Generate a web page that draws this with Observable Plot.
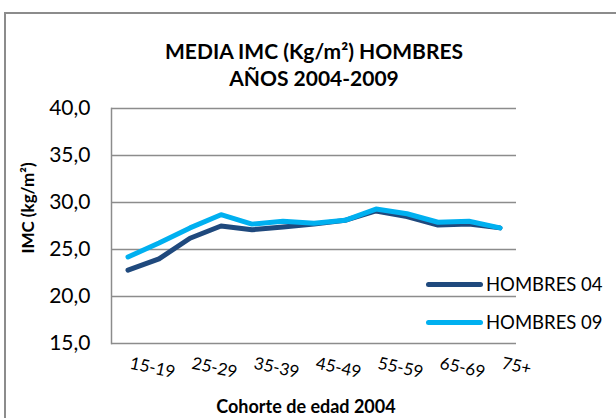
<!DOCTYPE html>
<html><head><meta charset="utf-8">
<script src="https://cdn.jsdelivr.net/npm/d3@7"></script>
<script src="https://cdn.jsdelivr.net/npm/@observablehq/plot@0.6"></script>
<style>
body{margin:0;background:#fff;}
#wrap{position:relative;width:616px;height:418px;overflow:hidden;font-family:Lato,"Open Sans",sans-serif;color:#000;}
#border{position:absolute;left:4px;top:12px;width:640px;height:440px;border:2px solid #8c8c8c;box-sizing:border-box;}
#title{position:absolute;left:14px;width:600px;top:37px;text-align:center;font-weight:bold;font-size:21px;line-height:27px;}
#ytitle{position:absolute;left:27px;top:208px;transform:translate(-50%,-50%) rotate(-90deg);font-weight:bold;font-size:17px;white-space:nowrap;}
#xtitle{position:absolute;left:306px;top:396px;transform:translateX(-50%);font-weight:bold;font-size:18px;line-height:21px;white-space:nowrap;}
.leg{position:absolute;left:426px;height:22px;display:flex;align-items:center;font-size:18.5px;white-space:nowrap;}
.leg span.sw{display:inline-block;width:57px;height:5px;border-radius:3px;margin-right:3px;}
#chart{position:absolute;left:0;top:0;}
</style></head><body><div id="wrap"><div id="border"></div><div id="chart"></div></div>
<script>
const ageGroups = ["15-19","20-24","25-29","30-34","35-39","40-44","45-49","50-54","55-59","60-64","65-69","70-74","75+"];
const hombres04 = [22.8,24.0,26.2,27.5,27.1,27.4,27.7,28.1,29.1,28.5,27.6,27.7,27.3];
const hombres09 = [24.2,25.7,27.3,28.7,27.7,28.0,27.8,28.1,29.3,28.8,27.9,28.0,27.3];
const seriesNames = ["HOMBRES 04","HOMBRES 09"];
const seriesColors = ["#1f497d","#00b0f0"];
const yTicks = [15,20,25,30,35,40];
const shownLabels = ageGroups.filter((d,i)=>i%2===0);
const titleLines = ["MEDIA IMC (Kg/m²) HOMBRES","AÑOS 2004-2009"];
const yTitle = "IMC (kg/m²)";
const xTitle = "Cohorte de edad 2004";

const rows = [];
ageGroups.forEach((a,i)=>{
  rows.push({age:a, value:hombres04[i], series:seriesNames[0]});
});
ageGroups.forEach((a,i)=>{
  rows.push({age:a, value:hombres09[i], series:seriesNames[1]});
});

const fmt = d => d.toFixed(1).replace(".", ",");
const font = 'Lato, "Open Sans", sans-serif';

const chart = Plot.plot({
  width:616, height:418,
  marginLeft:111, marginRight:100, marginTop:108, marginBottom:75,
  x:{type:"band", domain:ageGroups, padding:0, axis:null},
  y:{domain:[15,40], axis:null},
  color:{domain:seriesNames, range:seriesColors},
  style:{fontFamily:font, background:"transparent", color:"#000"},
  marks:[
    Plot.ruleY(yTicks, {stroke:"#8c8c8c", strokeWidth:1.5}),
    Plot.frame({anchor:"left", stroke:"#8c8c8c", strokeWidth:1.5}),
    Plot.axisY({ticks:yTicks, tickSize:0, tickPadding:21, tickFormat:fmt, fontSize:21, fill:"#000", label:null}),
    Plot.line(rows, {x:"age", y:"value", stroke:"series", z:"series", strokeWidth:5, strokeLinejoin:"round", strokeLinecap:"round"}),
    Plot.text(shownLabels, {x:d=>d, frameAnchor:"bottom", dy:25, dx:1, rotate:12, textAnchor:"start", fontSize:17, fill:"#000"})
  ]
});
document.getElementById("chart").appendChild(chart);

const wrap = document.getElementById("wrap");
const t = document.createElement("div"); t.id="title"; t.innerHTML = titleLines.join("<br>"); wrap.appendChild(t);
const yt = document.createElement("div"); yt.id="ytitle"; yt.textContent = yTitle; wrap.appendChild(yt);
const xt = document.createElement("div"); xt.id="xtitle"; xt.textContent = xTitle; wrap.appendChild(xt);
const legTops = [273, 311];
seriesNames.forEach((s,i)=>{
  const d = document.createElement("div"); d.className="leg"; d.style.top = legTops[i]+"px";
  const sw = document.createElement("span"); sw.className="sw"; sw.style.background = seriesColors[i];
  d.appendChild(sw); d.appendChild(document.createTextNode(s)); wrap.appendChild(d);
});
</script>
</body></html>
